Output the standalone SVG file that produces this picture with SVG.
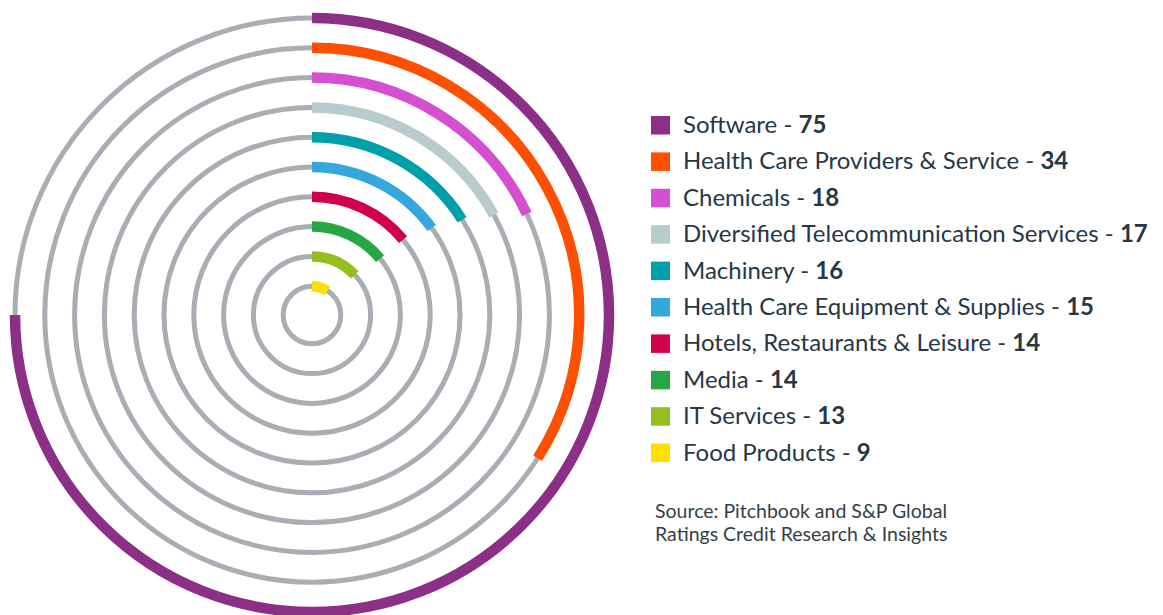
<svg xmlns="http://www.w3.org/2000/svg" width="1163" height="615" viewBox="0 0 1163 615">
<style>
.track{fill:none;stroke:#a8aeb3;stroke-width:5}
.arc{fill:none;stroke-width:10.5;stroke-linecap:butt}
.lbl{font-family:Lato,"Open Sans",sans-serif;font-size:24px;fill:#263746}
.lbl tspan.v{font-weight:bold}
.src{font-family:Lato,"Open Sans",sans-serif;font-size:19.5px;fill:#333f48}
</style>
<rect width="1163" height="615" fill="#ffffff"/>
<g id="tracks">
<circle class="track" cx="312" cy="315" r="297"/>
<circle class="track" cx="312" cy="315" r="267.2"/>
<circle class="track" cx="312" cy="315" r="237.4"/>
<circle class="track" cx="312" cy="315" r="207.6"/>
<circle class="track" cx="312" cy="315" r="177.8"/>
<circle class="track" cx="312" cy="315" r="148"/>
<circle class="track" cx="312" cy="315" r="118.2"/>
<circle class="track" cx="312" cy="315" r="88.4"/>
<circle class="track" cx="312" cy="315" r="58.6"/>
<circle class="track" cx="312" cy="315" r="28.8"/>
</g>
<g id="arc-software"><path class="arc" stroke="#8c2f87" d="M312,18 A297,297 0 1 1 15,315"/></g>
<g id="arc-healthcare"><path class="arc" stroke="#fe5000" d="M312,47.8 A267.2,267.2 0 0 1 537.6,458.2"/></g>
<g id="arc-chemicals"><path class="arc" stroke="#d64fd1" d="M312,77.6 A237.4,237.4 0 0 1 526.8,213.9"/></g>
<g id="arc-telecom"><path class="arc" stroke="#b9cccd" d="M312,107.4 A207.6,207.6 0 0 1 493.9,215"/></g>
<g id="arc-machinery"><path class="arc" stroke="#00a0ab" d="M312,137.2 A177.8,177.8 0 0 1 462.1,219.7"/></g>
<g id="arc-hce"><path class="arc" stroke="#34a8da" d="M312,167 A148,148 0 0 1 431.7,228"/></g>
<g id="arc-hotels"><path class="arc" stroke="#d0004f" d="M312,196.8 A118.2,118.2 0 0 1 403.1,239.7"/></g>
<g id="arc-media"><path class="arc" stroke="#27a744" d="M312,226.6 A88.4,88.4 0 0 1 380.1,258.7"/></g>
<g id="arc-it"><path class="arc" stroke="#93c01f" d="M312,256.4 A58.6,58.6 0 0 1 354.7,274.9"/></g>
<g id="arc-food"><path class="arc" stroke="#ffe000" d="M312,286.2 A28.8,28.8 0 0 1 327.4,290.7"/></g>
<g id="legend">
<g id="leg-software"><rect x="651" y="116" width="19" height="18.5" fill="#8c2f87"/><text class="lbl" x="683" y="133">Software - <tspan class="v">75</tspan></text></g>
<g id="leg-healthcare"><rect x="651" y="152.4" width="19" height="18.5" fill="#fe5000"/><text class="lbl" x="683" y="169.4">Health Care Providers &amp; Service - <tspan class="v">34</tspan></text></g>
<g id="leg-chemicals"><rect x="651" y="188.8" width="19" height="18.5" fill="#d64fd1"/><text class="lbl" x="683" y="205.8">Chemicals - <tspan class="v">18</tspan></text></g>
<g id="leg-telecom"><rect x="651" y="225.2" width="19" height="18.5" fill="#b9cccd"/><text class="lbl" x="683" y="242.2">Diversified Telecommunication Services - <tspan class="v">17</tspan></text></g>
<g id="leg-machinery"><rect x="651" y="261.6" width="19" height="18.5" fill="#00a0ab"/><text class="lbl" x="683" y="278.6">Machinery - <tspan class="v">16</tspan></text></g>
<g id="leg-hce"><rect x="651" y="298" width="19" height="18.5" fill="#34a8da"/><text class="lbl" x="683" y="315">Health Care Equipment &amp; Supplies - <tspan class="v">15</tspan></text></g>
<g id="leg-hotels"><rect x="651" y="334.4" width="19" height="18.5" fill="#d0004f"/><text class="lbl" x="683" y="351.4">Hotels, Restaurants &amp; Leisure - <tspan class="v">14</tspan></text></g>
<g id="leg-media"><rect x="651" y="370.8" width="19" height="18.5" fill="#27a744"/><text class="lbl" x="683" y="387.8">Media - <tspan class="v">14</tspan></text></g>
<g id="leg-it"><rect x="651" y="407.2" width="19" height="18.5" fill="#93c01f"/><text class="lbl" x="683" y="424.2">IT Services - <tspan class="v">13</tspan></text></g>
<g id="leg-food"><rect x="651" y="443.6" width="19" height="18.5" fill="#ffe000"/><text class="lbl" x="683" y="460.6">Food Products - <tspan class="v">9</tspan></text></g>
</g>
<g id="source">
<text class="src" x="655" y="518">Source: Pitchbook and S&amp;P Global</text>
<text class="src" x="655" y="541">Ratings Credit Research &amp; Insights</text>
</g>
</svg>
